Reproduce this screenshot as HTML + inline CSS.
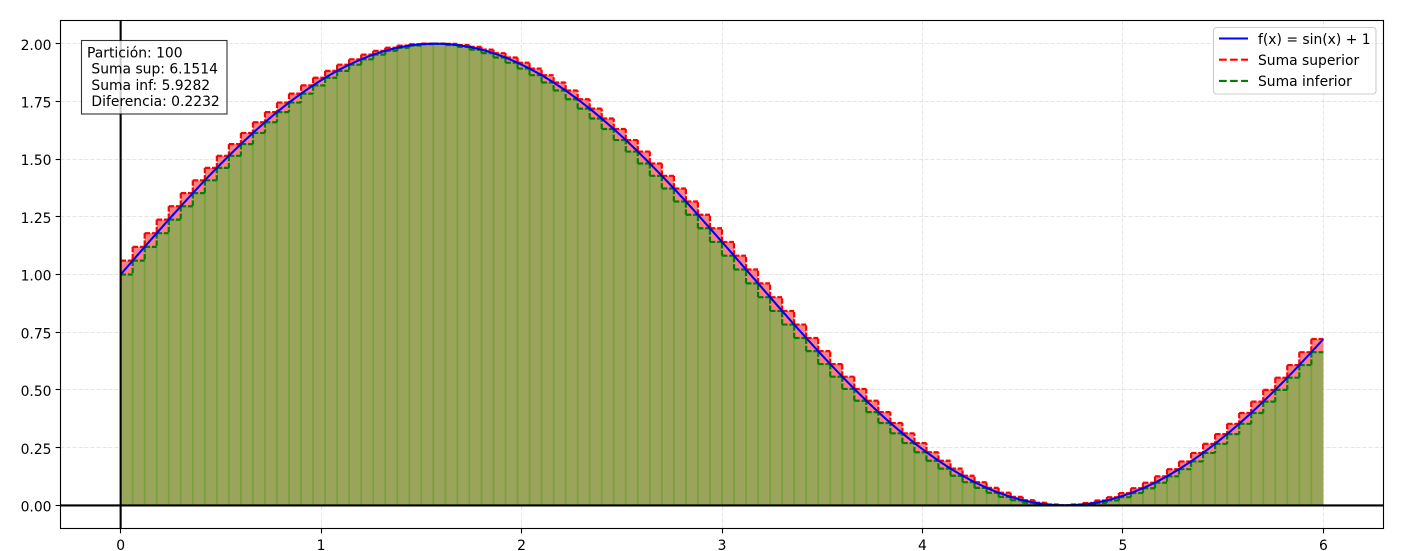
<!DOCTYPE html>
<html lang="es">
<head>
<meta charset="utf-8">
<title>Sumas de Riemann</title>
<style>
html,body{margin:0;padding:0;background:#fff;}
body{width:1405px;height:551px;overflow:hidden;}
svg{display:block;}
text{font-family:"DejaVu Sans","Liberation Sans",sans-serif;font-size:13.89px;fill:#000;white-space:pre;}
</style>
</head>
<body>
<svg id="chart" xmlns="http://www.w3.org/2000/svg" width="1405" height="551" viewBox="0 0 1405 551"></svg>
<script>
const xTicks = [0, 1, 2, 3, 4, 5, 6];
const xTickLabels = ["0", "1", "2", "3", "4", "5", "6"];
const yTicks = [0, 0.25, 0.5, 0.75, 1, 1.25, 1.5, 1.75, 2];
const yTickLabels = ["0.00", "0.25", "0.50", "0.75", "1.00", "1.25", "1.50", "1.75", "2.00"];
const partitionNodes = [0,0.06,0.12,0.18,0.24,0.3,0.36,0.42,0.48,0.54,0.6,0.66,0.72,0.78,0.84,0.9,0.96,1.02,1.08,1.14,1.2,1.26,1.32,1.38,1.44,1.5,1.56,1.62,1.68,1.74,1.8,1.86,1.92,1.98,2.04,2.1,2.16,2.22,2.28,2.34,2.4,2.46,2.52,2.58,2.64,2.7,2.76,2.82,2.88,2.94,3,3.06,3.12,3.18,3.24,3.3,3.36,3.42,3.48,3.54,3.6,3.66,3.72,3.78,3.84,3.9,3.96,4.02,4.08,4.14,4.2,4.26,4.32,4.38,4.44,4.5,4.56,4.62,4.68,4.74,4.8,4.86,4.92,4.98,5.04,5.1,5.16,5.22,5.28,5.34,5.4,5.46,5.52,5.58,5.64,5.7,5.76,5.82,5.88,5.94,6];
const curveValues = [1,1.06,1.1197,1.179,1.2377,1.2955,1.3523,1.4078,1.4618,1.5141,1.5646,1.6131,1.6594,1.7033,1.7446,1.7833,1.8192,1.8521,1.882,1.9086,1.932,1.9521,1.9687,1.9819,1.9915,1.9975,1.9999,1.9988,1.994,1.9857,1.9738,1.9585,1.9397,1.9174,1.8919,1.8632,1.8315,1.7967,1.7589,1.7185,1.6755,1.63,1.5823,1.5325,1.4808,1.4274,1.3724,1.3161,1.2586,1.2002,1.1411,1.0815,1.0216,0.9616,0.9018,0.8423,0.7833,0.7251,0.668,0.6121,0.5575,0.5045,0.4534,0.4041,0.357,0.3122,0.27,0.2303,0.1933,0.1594,0.1284,0.1006,0.076,0.0547,0.0368,0.0225,0.0116,0.0042,0.0005,0.0004,0.0038,0.0108,0.0215,0.0357,0.0535,0.0742,0.0985,0.126,0.1568,0.1905,0.2272,0.2667,0.3088,0.3534,0.4002,0.4493,0.5003,0.5532,0.6077,0.6635,0.7206];
const upperValues = [1.06,1.1197,1.179,1.2377,1.2955,1.3523,1.4078,1.4618,1.5141,1.5646,1.6131,1.6594,1.7033,1.7446,1.7833,1.8192,1.8521,1.882,1.9086,1.932,1.9521,1.9687,1.9819,1.9915,1.9975,1.9999,2,1.9988,1.994,1.9857,1.9738,1.9585,1.9397,1.9174,1.8919,1.8632,1.8315,1.7967,1.7589,1.7185,1.6755,1.63,1.5823,1.5325,1.4808,1.4274,1.3724,1.3161,1.2586,1.2002,1.1411,1.0815,1.0216,0.9616,0.9018,0.8423,0.7833,0.7251,0.668,0.6121,0.5575,0.5045,0.4534,0.4041,0.357,0.3122,0.27,0.2303,0.1933,0.1594,0.1284,0.1006,0.076,0.0547,0.0368,0.0225,0.0116,0.0042,0.0005,0.0038,0.0108,0.0215,0.0357,0.0535,0.0742,0.0985,0.126,0.1568,0.1905,0.2272,0.2667,0.3088,0.3534,0.4002,0.4493,0.5003,0.5532,0.6077,0.6635,0.7206];
const lowerValues = [1,1.06,1.1197,1.179,1.2377,1.2955,1.3523,1.4078,1.4618,1.5141,1.5646,1.6131,1.6594,1.7033,1.7446,1.7833,1.8192,1.8521,1.882,1.9086,1.932,1.9521,1.9687,1.9819,1.9915,1.9975,1.9988,1.994,1.9857,1.9738,1.9585,1.9397,1.9174,1.8919,1.8632,1.8315,1.7967,1.7589,1.7185,1.6755,1.63,1.5823,1.5325,1.4808,1.4274,1.3724,1.3161,1.2586,1.2002,1.1411,1.0815,1.0216,0.9616,0.9018,0.8423,0.7833,0.7251,0.668,0.6121,0.5575,0.5045,0.4534,0.4041,0.357,0.3122,0.27,0.2303,0.1933,0.1594,0.1284,0.1006,0.076,0.0547,0.0368,0.0225,0.0116,0.0042,0.0005,0,0.0004,0.0038,0.0108,0.0215,0.0357,0.0535,0.0742,0.0985,0.126,0.1568,0.1905,0.2272,0.2667,0.3088,0.3534,0.4002,0.4493,0.5003,0.5532,0.6077,0.6635];
const legendLabels = ["f(x) = sin(x) + 1", "Suma superior", "Suma inferior"];
const summaryLines = ["Partición: 100", " Suma sup: 6.1514", " Suma inf: 5.9282", " Diferencia: 0.2232"];

const svg = document.getElementById('chart');
const NS = 'http://www.w3.org/2000/svg';
const plotLeft = 60.5, plotRight = 1383.5, plotTop = 20.5, plotBottom = 528.5;
const xMin = -0.3, xMax = 6.3, yMin = -0.1, yMax = 2.1;
function xScale(v) { return plotLeft + (v - xMin) / (xMax - xMin) * (plotRight - plotLeft); }
function yScale(v) { return plotBottom - (v - yMin) / (yMax - yMin) * (plotBottom - plotTop); }
function make(tag, attrs, parent) {
  const el = document.createElementNS(NS, tag);
  for (const k in attrs) el.setAttribute(k, attrs[k]);
  (parent || svg).appendChild(el);
  return el;
}
function snap(v) { return Math.round(v - 0.5) + 0.5; }

const plotBg = make('rect', {x: plotLeft, y: plotTop, width: plotRight - plotLeft, height: plotBottom - plotTop, fill: '#fff'});



// grid
const gridGroup = make('g', {stroke: '#b0b0b0', 'stroke-opacity': 0.45, 'stroke-width': 0.7, 'stroke-dasharray': '4 2', fill: 'none'});


xTicks.forEach(function (t) {
  const line = make('line', {x1: snap(xScale(t)), x2: snap(xScale(t)), y1: plotTop, y2: plotBottom}, gridGroup);
  
  
});
yTicks.forEach(function (t) {
  const line = make('line', {x1: plotLeft, x2: plotRight, y1: snap(yScale(t)), y2: snap(yScale(t))}, gridGroup);
  
  
});

// upper bars (pink top caps)
const upperGroup = make('g', {fill: '#ff8080'});


upperValues.forEach(function (v, i) {
  const x0 = xScale(partitionNodes[i]), x1 = xScale(partitionNodes[i + 1]);
  const bar = make('rect', {x: x0, y: yScale(v), width: x1 - x0, height: yScale(0) - yScale(v)}, upperGroup);
  
  
});

// lower bars (olive body)
const lowerGroup = make('g', {fill: '#9aa45a'});


lowerValues.forEach(function (v, i) {
  const x0 = xScale(partitionNodes[i]), x1 = xScale(partitionNodes[i + 1]);
  const bar = make('rect', {x: x0, y: yScale(v), width: x1 - x0, height: yScale(0) - yScale(v)}, lowerGroup);
  
  
});

// bar dividers
const dividerGroup = make('g', {stroke: '#78a03c', 'stroke-width': 1.7, fill: 'none'});


lowerValues.forEach(function (v, i) {
  if (i === 0) return;
  const x = xScale(partitionNodes[i]);
  const y = yScale(Math.min(v, lowerValues[i - 1]));
  const line = make('line', {x1: x, x2: x, y1: y, y2: yScale(0)}, dividerGroup);
  
  
});

// each step is its own set of subpaths so the dash pattern restarts at every corner
function stepPath(values) {
  let d = '';
  values.forEach(function (v, i) {
    const x0 = xScale(partitionNodes[i]), x1 = xScale(partitionNodes[i + 1]);
    d += 'M' + x0 + ' ' + yScale(v) + 'L' + x1 + ' ' + yScale(v);
    if (i > 0) d += 'M' + x0 + ' ' + yScale(v) + 'L' + x0 + ' ' + yScale(values[i - 1]);
  });
  return d;
}
const upperStep = make('path', {d: stepPath(upperValues), fill: 'none', stroke: '#ff0000', 'stroke-width': 2.2, 'stroke-dasharray': '5.4 1.8'});


const lowerStep = make('path', {d: stepPath(lowerValues), fill: 'none', stroke: '#008000', 'stroke-width': 2.2, 'stroke-dasharray': '5.4 1.8'});



// function curve
let curveD = '';
curveValues.forEach(function (v, i) {
  curveD += (i ? 'L' : 'M') + xScale(partitionNodes[i]) + ' ' + yScale(v);
});
const curve = make('path', {d: curveD, fill: 'none', stroke: '#0000ff', 'stroke-width': 2.08, 'stroke-linejoin': 'round'});



// zero axes
const zeroH = make('line', {x1: plotLeft, x2: plotRight, y1: yScale(0), y2: yScale(0), stroke: '#000', 'stroke-width': 2.08});


const zeroV = make('line', {x1: xScale(0), x2: xScale(0), y1: plotTop, y2: plotBottom, stroke: '#000', 'stroke-width': 2.08});



// plot frame
const frame = make('rect', {x: plotLeft, y: plotTop, width: plotRight - plotLeft, height: plotBottom - plotTop, fill: 'none', stroke: '#000', 'stroke-width': 1.11});



// ticks and labels
xTicks.forEach(function (t, i) {
  const tick = make('line', {x1: snap(xScale(t)), x2: snap(xScale(t)), y1: plotBottom, y2: plotBottom + 4.86, stroke: '#000', 'stroke-width': 1.11});
  
  
  const label = make('text', {x: xScale(t), y: 550, 'text-anchor': 'middle'});
  label.textContent = xTickLabels[i];
  
  
});
yTicks.forEach(function (t, i) {
  const tick = make('line', {x1: plotLeft - 4.86, x2: plotLeft, y1: snap(yScale(t)), y2: snap(yScale(t)), stroke: '#000', 'stroke-width': 1.11});
  
  
  const label = make('text', {x: 51.5, y: yScale(t) + 6.2, 'text-anchor': 'end'});
  label.textContent = yTickLabels[i];
  
  
});

// summary box
const summaryGroup = make('g', {});


make('rect', {x: 81.5, y: 40.5, width: 145.5, height: 73.5, fill: '#fff', 'fill-opacity': 0.8, stroke: '#000', 'stroke-opacity': 0.8, 'stroke-width': 1.11}, summaryGroup);
summaryLines.forEach(function (line, i) {
  const t = make('text', {x: 87, y: 57.3 + i * 16.3}, summaryGroup);
  t.setAttribute('xml:space', 'preserve');
  t.textContent = line;
  
  
});

// legend
const legendGroup = make('g', {});


make('rect', {x: 1213.5, y: 27.5, width: 162.5, height: 66.5, rx: 3, ry: 3, fill: '#fff', 'fill-opacity': 0.8, stroke: '#cccccc', 'stroke-width': 1.11}, legendGroup);
const legendColors = ['#0000ff', '#ff0000', '#008000'];
const legendDash = ['none', '7.7 3.33', '7.7 3.33'];
legendLabels.forEach(function (label, i) {
  const y = 38.5 + i * 21.2;
  const key = make('line', {x1: 1219, x2: 1248, y1: y, y2: y, stroke: legendColors[i], 'stroke-width': 2.08, 'stroke-dasharray': legendDash[i]}, legendGroup);
  
  
  const t = make('text', {x: 1258, y: 44 + i * 21}, legendGroup);
  t.textContent = label;
  
  
});
</script>
</body>
</html>
